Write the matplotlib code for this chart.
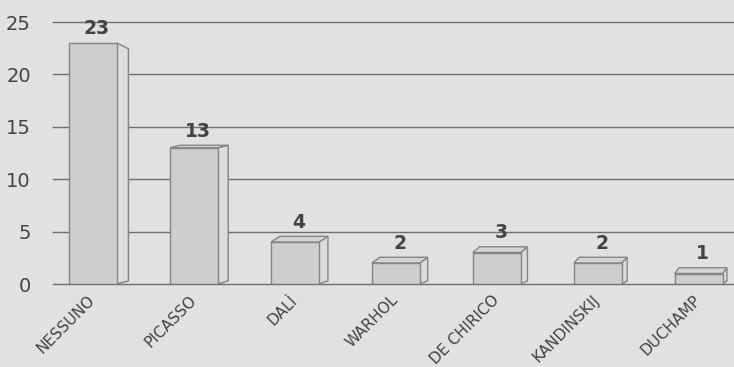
import matplotlib
matplotlib.use("Agg")
import matplotlib.pyplot as plt
from matplotlib.patches import Polygon
import numpy as np

categories = ["NESSUNO", "PICASSO", "DALÌ", "WARHOL", "DE CHIRICO", "KANDINSKIJ", "DUCHAMP"]
values = [23, 13, 4, 2, 3, 2, 1]
yticks = [0, 5, 10, 15, 20, 25]

FONT = ["Liberation Sans Narrow", "DejaVu Sans"]
plt.rcParams["font.family"] = FONT

BG = "#e1e1e1"
FRONT = "#cecece"
SIDE = "#dcdcdc"
TOP = "#d4d4d4"
EDGE = "#858585"
TXT = "#444444"
GRID = "#707070"

fig = plt.figure(figsize=(7.34, 3.67), dpi=100, facecolor=BG)
ax = fig.add_axes([53 / 734, 83 / 367, 1 - 53 / 734, (284 - 22) / 367])
ax.set_facecolor(BG)
ax.set_xlim(-0.396, 6.35)
ax.set_ylim(0, 25)

for y in yticks:
    ax.axhline(y, color=GRID, lw=1.0, zorder=1, clip_on=False)

x = np.arange(len(categories))
w = 0.475
for i, (c, v) in enumerate(zip(x, values)):
    x0, x1 = c - w / 2, c + w / 2
    dx = (11.5 - 1.2 * i) / 101.0
    dy_top = float(np.clip(0.08 * (16 - v), -0.7, 0.55))
    dy_bot = 0.3
    side = Polygon([(x1, 0), (x1 + dx, dy_bot), (x1 + dx, v + dy_top), (x1, v)],
                   closed=True, facecolor=SIDE, edgecolor=EDGE, lw=1.0, zorder=3)
    ax.add_patch(side)
    if dy_top > 0:
        top = Polygon([(x0, v), (x1, v), (x1 + dx, v + dy_top), (x0 + dx, v + dy_top)],
                      closed=True, facecolor=TOP, edgecolor=EDGE, lw=1.0, zorder=3,
                      clip_on=False)
        ax.add_patch(top)
    ax.bar(c, v, width=w, color=FRONT, edgecolor=EDGE, lw=1.0, zorder=4)
    ax.text(c + 0.04, v + max(dy_top, 0) + 0.45, str(v), ha="center", va="bottom",
            fontsize=13.5, fontweight="bold", color=TXT, family=FONT, zorder=5)

for spine in ax.spines.values():
    spine.set_visible(False)

ax.set_yticks(yticks)
ax.set_yticklabels([str(t) for t in yticks], fontsize=14, color=TXT)
ax.tick_params(axis="y", length=0, pad=16)
ax.set_xticks([])

for c, lab in zip(x, categories):
    ax.text(c + 0.05, -0.8, lab, rotation=45, ha="right", va="top",
            fontsize=11, color=TXT, family=FONT)

fig.savefig("out.png", dpi=100, facecolor=BG)
